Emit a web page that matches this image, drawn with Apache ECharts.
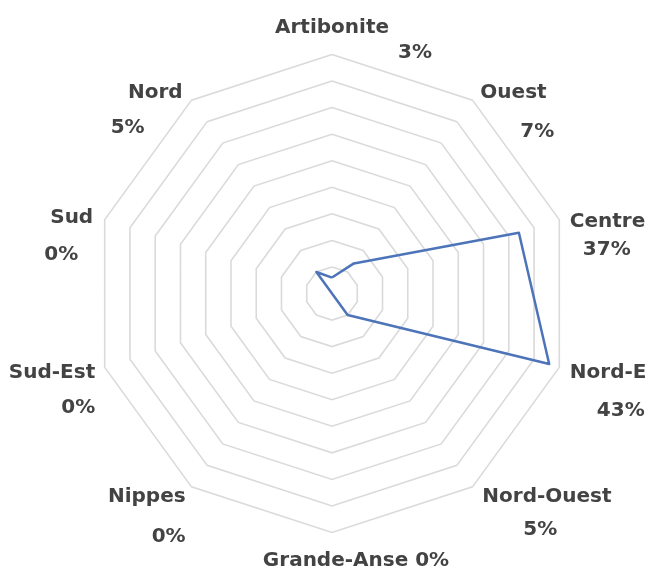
<!DOCTYPE html>
<html>
<head>
<meta charset="utf-8">
<script src="https://cdn.jsdelivr.net/npm/echarts@6/dist/echarts.min.js"></script>
<style>
  html, body { margin: 0; padding: 0; background: #fff; }
  #main { width: 645px; height: 572px; }
</style>
</head>
<body>
<div id="main"></div>
<script>
// départements, ordre des axes du radar (sens anti-horaire à partir du haut)
var departements = ['Artibonite', 'Nord', 'Sud', 'Sud-Est', 'Nippes', 'Grande-Anse', 'Nord-Ouest', 'Nord-Est', 'Centre', 'Ouest'];
var pourcentages = [3, 5, 0, 0, 0, 0, 5, 43, 37, 7];
var maxValue = 45;
var splitCount = 9;

// petits décalages des étiquettes [dx, dy] : nom, puis pourcentage (null = sur la même ligne)
var nameShift = [[0, -7], [-3, 11], [-2, 11], [0, 12], [0, 12], [24, 18], [4, 12], [1, 12], [1, 15], [2, 11]];
var pctShift = [[83, -2], [-41, 26], [-17, 28], [0, 27], [0, 32], null, [45, 25], [28, 30], [14, 23], [42, 30]];

var txtColor = '#434343';
var lineColor = '#4d74b9';

function alignOf(i) {
  if (i === 0 || i === 5) return 'center';
  return i < 5 ? 'right' : 'left';
}

// convertit un décalage en padding de texte riche
function pad(s, align) {
  var dx = s[0], dy = s[1];
  var p = [dy > 0 ? 2 * dy : 0, 0, dy < 0 ? -2 * dy : 0, 0];
  if (align === 'left') p[3] = Math.max(dx, 0);
  else if (align === 'right') p[1] = Math.max(-dx, 0);
  else if (dx > 0) p[3] = 2 * dx;
  else p[1] = -2 * dx;
  return p;
}

var rich = {};
departements.forEach(function (d, i) {
  var base = {
    fontFamily: 'DejaVu Sans',
    fontWeight: 'bold',
    fontSize: 20,
    color: txtColor,
    lineHeight: 20
  };
  rich['n' + i] = Object.assign({}, base, { padding: pad(nameShift[i], alignOf(i)) });
  if (pctShift[i]) {
    rich['p' + i] = Object.assign({}, base, { padding: pad(pctShift[i], alignOf(i)) });
  }
});

var myChart = echarts.init(document.getElementById('main'));

var option = {
  backgroundColor: '#fff',
  animation: false,
  radar: {
    center: [332, 293.5],
    radius: 239,
    startAngle: 90,
    shape: 'polygon',
    splitNumber: splitCount,
    nameGap: 10,
    indicator: departements.map(function (d) {
      return { name: d, min: 0, max: maxValue };
    }),
    axisName: {
      verticalAlign: 'middle',
      formatter: function (name) {
        var i = departements.indexOf(name);
        var pct = pourcentages[i] + '%';
        if (!pctShift[i]) return '{n' + i + '|' + name + ' ' + pct + '}';
        return '{n' + i + '|' + name + '}\n{p' + i + '|' + pct + '}';
      },
      rich: rich
    },
    splitLine: { lineStyle: { color: '#dadada', width: 1.6 } },
    splitArea: { show: false },
    axisLine: { show: false },
    axisTick: { show: false },
    axisLabel: { show: false }
  },
  series: [{
    type: 'radar',
    symbol: 'none',
    lineStyle: { color: lineColor, width: 2.5 },
    data: [{ value: pourcentages, name: 'Répartition' }]
  }]
};

myChart.setOption(option);
</script>
</body>
</html>
